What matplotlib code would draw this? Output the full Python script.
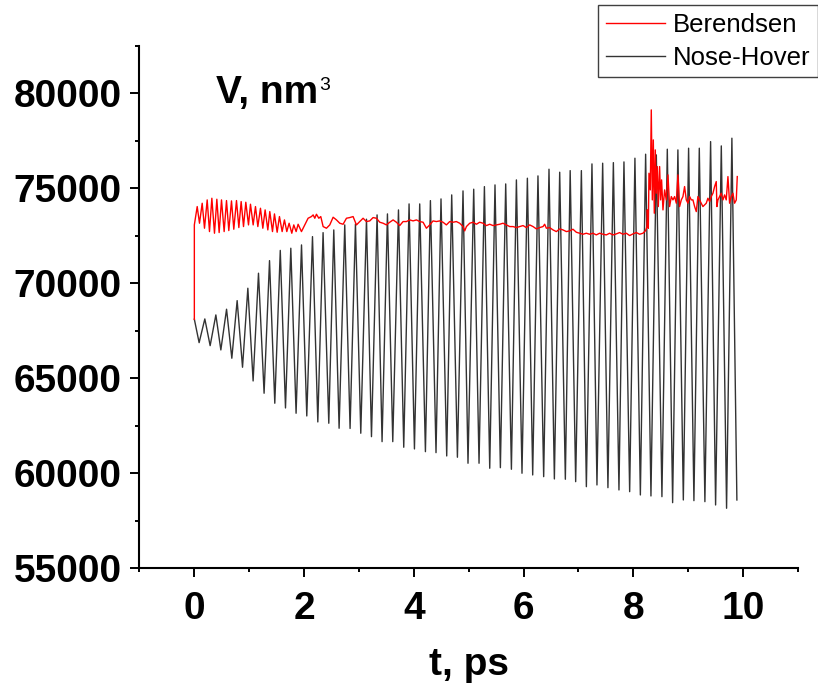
import matplotlib
matplotlib.use("Agg")
import matplotlib.pyplot as plt
from matplotlib.ticker import MultipleLocator

plt.rcParams['font.family'] = ['Liberation Sans', 'DejaVu Sans']

# Nose-Hover (black): extrema of the oscillation, t in ps, V in nm^3
nh_t = [0.0, 0.087, 0.191, 0.288, 0.392, 0.483, 0.587, 0.683, 0.780, 0.878,
        0.975, 1.071, 1.169, 1.271, 1.370, 1.466, 1.566, 1.661, 1.758, 1.854,
        1.953, 2.049, 2.153, 2.250, 2.346, 2.450, 2.541, 2.638, 2.741, 2.838,
        2.936, 3.033, 3.137, 3.228, 3.330, 3.421, 3.519, 3.616, 3.720, 3.816,
        3.913, 4.011, 4.107, 4.211, 4.302, 4.404, 4.495, 4.599, 4.690, 4.794,
        4.896, 4.987, 5.091, 5.188, 5.286, 5.383, 5.479, 5.577, 5.674, 5.778,
        5.869, 5.971, 6.069, 6.166, 6.262, 6.366, 6.463, 6.561, 6.658, 6.761,
        6.849, 6.949, 7.053, 7.144, 7.246, 7.337, 7.441, 7.537, 7.636, 7.738,
        7.829, 7.933, 8.029, 8.128, 8.224, 8.321, 8.419, 8.521, 8.619, 8.716,
        8.812, 8.911, 9.007, 9.104, 9.202, 9.304, 9.408, 9.499, 9.603, 9.699,
        9.796, 9.887]
nh_v = [68106, 66874, 68121, 66716, 68332, 66490, 68632, 66053, 69085, 65579,
        69737, 64858, 70527, 64211, 71190, 63685, 71727, 63437, 71842, 63158,
        72016, 63016, 72453, 62701, 72663, 62632, 72805, 62369, 73069, 62358,
        73121, 62106, 73369, 61927, 73595, 61664, 73648, 61664, 73858, 61369,
        74174, 61280, 74174, 61137, 74348, 61085, 74437, 60911, 74648, 60843,
        74858, 60527, 74948, 60527, 75084, 60264, 75174, 60295, 75226, 60211,
        75437, 60001, 75526, 59911, 75648, 59822, 76000, 59701, 75842, 59685,
        75926, 59558, 75926, 59295, 76279, 59385, 76316, 59243, 76347, 59122,
        76384, 59032, 76579, 58859, 76790, 58806, 76753, 58769, 77053, 58453,
        77016, 58595, 77105, 58559, 77105, 58506, 77453, 58332, 77226, 58159,
        77632, 58595]

# Berendsen (red)
b_t = [0.0, 0.0, 0.052, 0.094, 0.143, 0.185, 0.234, 0.276, 0.319, 0.367,
       0.410, 0.452, 0.495, 0.543, 0.586, 0.628, 0.677, 0.719, 0.768, 0.811,
       0.853, 0.896, 0.938, 0.987, 1.023, 1.072, 1.114, 1.157, 1.205, 1.248,
       1.290, 1.339, 1.375, 1.424, 1.460, 1.509, 1.551, 1.600, 1.642, 1.685,
       1.727, 1.776, 1.812, 1.855, 1.891, 1.952, 2.013, 2.073, 2.134, 2.165,
       2.195, 2.225, 2.268, 2.304, 2.347, 2.407, 2.468, 2.529, 2.590, 2.650,
       2.711, 2.772, 2.832, 2.893, 2.954, 3.015, 3.075, 3.136, 3.197, 3.257,
       3.318, 3.379, 3.440, 3.500, 3.561, 3.622, 3.682, 3.743, 3.804, 3.865,
       3.925, 3.986, 4.047, 4.107, 4.168, 4.229, 4.290, 4.350, 4.411, 4.472,
       4.532, 4.593, 4.654, 4.715, 4.775, 4.836, 4.897, 4.927, 4.958, 5.018,
       5.079, 5.140, 5.200, 5.261, 5.322, 5.383, 5.443, 5.504, 5.565, 5.625,
       5.686, 5.747, 5.808, 5.868, 5.929, 5.990, 6.050, 6.111, 6.172, 6.233,
       6.293, 6.354, 6.384, 6.415, 6.475, 6.536, 6.597, 6.658, 6.718, 6.779,
       6.840, 6.900, 6.961, 7.022, 7.083, 7.143, 7.204, 7.265, 7.325, 7.386,
       7.447, 7.508, 7.568, 7.629, 7.690, 7.750, 7.811, 7.872, 7.933, 7.993,
       8.054, 8.115, 8.175, 8.224, 8.248, 8.255, 8.273, 8.285, 8.309, 8.327,
       8.346, 8.364, 8.382, 8.400, 8.418, 8.437, 8.455, 8.479, 8.497, 8.515,
       8.540, 8.570, 8.601, 8.631, 8.661, 8.692, 8.722, 8.752, 8.783, 8.813,
       8.843, 8.874, 8.904, 8.934, 8.965, 8.995, 9.026, 9.056, 9.086, 9.117,
       9.147, 9.177, 9.208, 9.238, 9.268, 9.299, 9.329, 9.359, 9.390, 9.420,
       9.451, 9.481, 9.511, 9.523, 9.542, 9.572, 9.602, 9.633, 9.663, 9.693,
       9.724, 9.754, 9.785, 9.815, 9.845, 9.876, 9.894]
b_v = [68100, 73070, 74034, 73157, 74209, 72894, 74385, 72718, 74472, 72631,
       74420, 72666, 74385, 72718, 74350, 72771, 74332, 72841, 74350, 72929,
       74297, 72982, 74262, 73069, 74157, 73069, 74034, 72982, 73946, 72894,
       73859, 72806, 73771, 72718, 73648, 72683, 73508, 72718, 73332, 72718,
       73157, 72631, 73069, 72718, 73104, 72718, 73069, 73420, 73508, 73595,
       73420, 73631, 73420, 73508, 72982, 72894, 73069, 73473, 73332, 73157,
       73104, 73420, 73455, 73508, 73069, 73245, 73420, 73245, 73280, 73455,
       73420, 73210, 73157, 73069, 73210, 73332, 73210, 73034, 73245, 73245,
       73332, 73280, 73332, 73245, 73210, 72894, 73069, 73280, 73245, 73280,
       73210, 73069, 73245, 73210, 73245, 73157, 72982, 72754, 72982, 73157,
       73210, 73104, 73210, 73157, 73034, 73104, 73034, 73069, 73104, 73157,
       73069, 72982, 72981, 72929, 72982, 73034, 72929, 73069, 72982, 72859,
       72929, 72982, 73104, 72894, 72929, 72806, 72718, 72859, 72806, 72718,
       72754, 72841, 72683, 72631, 72578, 72631, 72578, 72631, 72543, 72631,
       72578, 72543, 72631, 72543, 72596, 72666, 72578, 72631, 72508, 72596,
       72666, 72578, 72631, 72771, 72982, 73859, 72894, 75788, 74911, 79121,
       74385, 77542, 73683, 77016, 74736, 76139, 74034, 76139, 74385, 75438,
       73859, 74911, 74385, 75701, 74034, 74560, 74385, 74560, 74210, 75701,
       74034, 74385, 74560, 75087, 74385, 74210, 74560, 74385, 74385, 74034,
       73771, 74560, 74385, 74210, 74034, 74122, 74210, 74473, 74297, 74560,
       74736, 75087, 75350, 74034, 74385, 74560, 74736, 74385, 74648, 74385,
       75613, 74210, 74560, 74736, 74210, 74385, 75613]

fig = plt.figure(figsize=(8.18, 6.87), dpi=100)
ax = fig.add_axes([0.1705, 0.1728, 0.805, 0.7607])

ax.plot(nh_t, nh_v, color='#333333', lw=1.0, label='Nose-Hover')
ax.plot(b_t, b_v, color='red', lw=1.0, label='Berendsen')

ax.set_xlim(-1, 11)
ax.set_ylim(55000, 82500)
ax.xaxis.set_major_locator(MultipleLocator(2))
ax.xaxis.set_minor_locator(MultipleLocator(1))
ax.yaxis.set_major_locator(MultipleLocator(5000))
ax.yaxis.set_minor_locator(MultipleLocator(2500))

for s in ['top', 'right']:
    ax.spines[s].set_visible(False)
for s in ['left', 'bottom']:
    ax.spines[s].set_linewidth(1.5)

ax.tick_params(which='major', direction='out', length=6.7, width=1.4,
               labelsize=28, pad=6)
ax.tick_params(which='minor', direction='out', length=3.2, width=1.4)
ax.tick_params(axis='x', which='major', pad=10)
for lab in ax.get_xticklabels() + ax.get_yticklabels():
    lab.set_fontweight('bold')

ax.set_xlabel('t, ps', fontsize=28, fontweight='bold', labelpad=14)

ax.text(0.116, 0.89, 'V, nm', transform=ax.transAxes, fontsize=28,
        fontweight='bold', va='baseline', ha='left')
ax.text(0.2735, 0.915, '3', transform=ax.transAxes, fontsize=14,
        va='baseline', ha='left')

h, l = ax.get_legend_handles_labels()
leg = fig.legend(h[::-1], l[::-1], loc='upper left',
                 bbox_to_anchor=(598 / 818, 1 - 5 / 687),
                 fontsize=18.5, frameon=True, fancybox=False,
                 edgecolor='#404040', framealpha=1, borderaxespad=0,
                 borderpad=0.3, handlelength=2.3, handletextpad=0.3,
                 labelspacing=0.35)
leg.get_frame().set_linewidth(1.0)

fig.savefig('out.png', dpi=100)
